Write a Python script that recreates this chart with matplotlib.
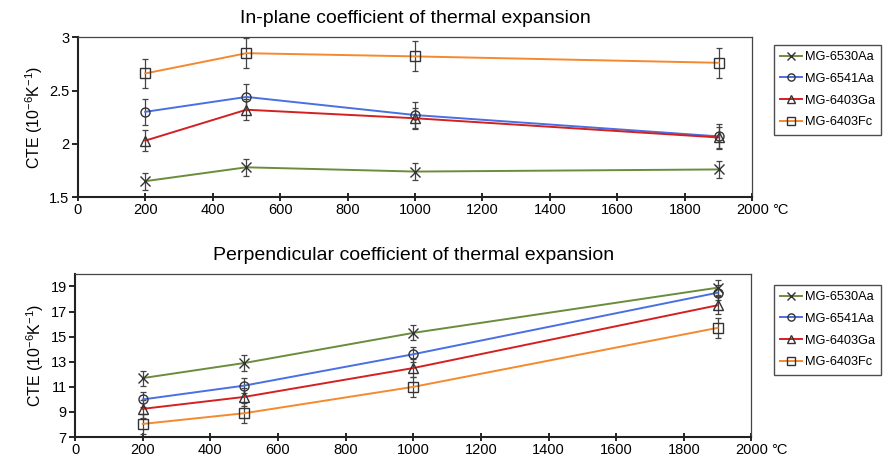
import matplotlib.pyplot as plt

plt.rcParams['font.family'] = ['Liberation Sans', 'DejaVu Sans']
plt.rcParams['mathtext.fontset'] = 'custom'
plt.rcParams['mathtext.rm'] = 'Liberation Sans'
plt.rcParams['mathtext.it'] = 'Liberation Sans'

temps = [200, 500, 1000, 1900]
names = ["MG-6530Aa", "MG-6541Aa", "MG-6403Ga", "MG-6403Fc"]
colors = ["#6b8c3c", "#4a6fe3", "#d42020", "#f5892e"]
markers = ["x", "o", "^", "s"]

# in-plane CTE (10^-6 K^-1)
inplane = [
    [1.65, 1.78, 1.74, 1.76],
    [2.30, 2.44, 2.27, 2.07],
    [2.03, 2.32, 2.24, 2.06],
    [2.66, 2.85, 2.82, 2.76],
]
inplane_err = [0.08, 0.12, 0.10, 0.14]

# perpendicular CTE (10^-6 K^-1)
perp = [
    [11.7, 12.9, 15.3, 18.9],
    [10.0, 11.1, 13.6, 18.5],
    [9.25, 10.2, 12.5, 17.5],
    [8.05, 8.9, 11.0, 15.7],
]
perp_err = [0.6, 0.6, 0.7, 0.8]

xticks = [0, 200, 400, 600, 800, 1000, 1200, 1400, 1600, 1800, 2000]

fig = plt.figure(figsize=(8.84, 4.65), dpi=100)
ax1 = fig.add_axes([0.088, 0.576, 0.763, 0.344])
ax2 = fig.add_axes([0.085, 0.060, 0.765, 0.351])


def draw(ax, data, errs, ylim, yticks, ylabels, title, legend_y):
    for vals, err, c, m, n in zip(data, errs, colors, markers, names):
        ax.errorbar(temps, vals, yerr=err, fmt="none", ecolor="#444444",
                    elinewidth=0.9, capsize=2.5, capthick=0.9, zorder=2)
        ax.plot(temps, vals, color=c, lw=1.4, marker=m, markersize=6.5,
                markerfacecolor="none", markeredgecolor="#333333",
                markeredgewidth=1.0, label=n, zorder=3)
    ax.set_xlim(0, 2000)
    ax.set_ylim(*ylim)
    ax.set_xticks(xticks)
    ax.set_xticklabels([str(t) for t in xticks])
    ax.set_yticks(yticks)
    ax.set_yticklabels(ylabels)
    ax.annotate("°C", xy=(2000, 0), xycoords=("data", "axes fraction"),
                xytext=(14, -4), textcoords="offset points",
                fontsize=10.5, ha="left", va="top")
    ax.tick_params(axis="x", direction="inout", length=6, width=1.2,
                   labelsize=10.5, pad=1)
    ax.tick_params(axis="y", direction="out", length=4, width=1.2,
                   labelsize=10.5, pad=2)
    for s in ["left", "bottom"]:
        ax.spines[s].set_linewidth(1.5)
        ax.spines[s].set_color("#222222")
    for s in ["top", "right"]:
        ax.spines[s].set_linewidth(0.9)
        ax.spines[s].set_color("#444444")
    ax.set_ylabel("CTE (10$^{-6}$K$^{-1}$)", fontsize=11.5, labelpad=3)
    ax.set_title(title, fontsize=14, pad=10)
    leg = ax.legend(loc="upper left", bbox_to_anchor=(774 / 884, legend_y),
                    bbox_transform=fig.transFigure, fontsize=9.2,
                    frameon=True, fancybox=False, handlelength=1.7,
                    handletextpad=0.2, borderpad=0.5, labelspacing=0.75,
                    borderaxespad=0, markerscale=0.8)
    leg.get_frame().set_edgecolor("#222222")
    leg.get_frame().set_linewidth(1.0)


draw(ax1, inplane, inplane_err, (1.5, 3.0), [1.5, 2, 2.5, 3],
     ["1.5", "2", "2.5", "3"], "In-plane coefficient of thermal expansion",
     1 - 45 / 465)
draw(ax2, perp, perp_err, (7, 20), [7, 9, 11, 13, 15, 17, 19],
     ["7", "9", "11", "13", "15", "17", "19"],
     "Perpendicular coefficient of thermal expansion", 1 - 285 / 465)

fig.savefig("out.png", dpi=100)
